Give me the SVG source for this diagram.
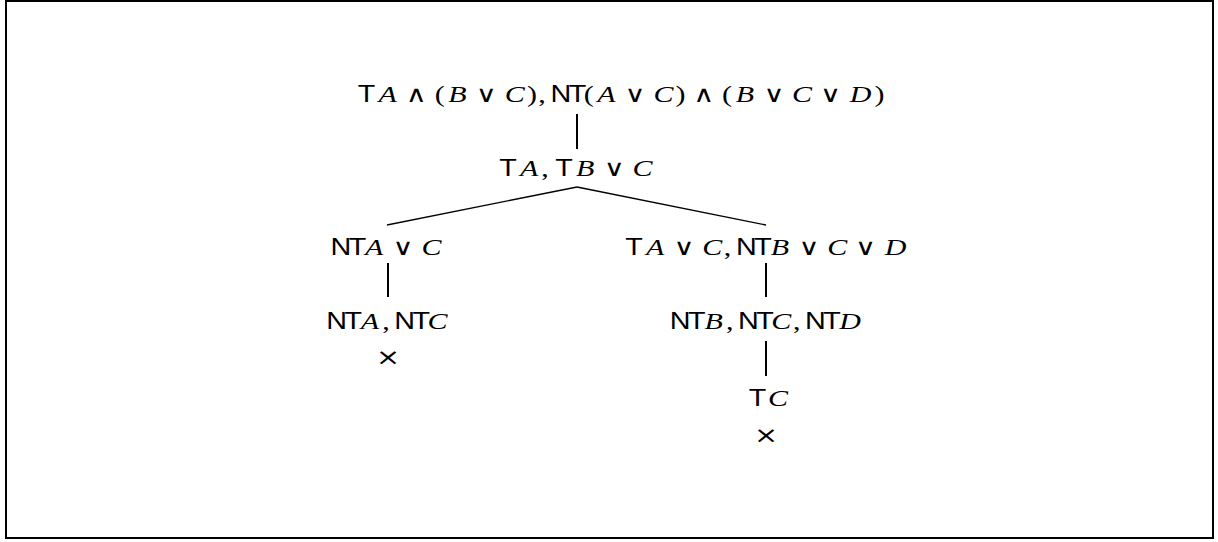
<svg xmlns="http://www.w3.org/2000/svg" width="1218" height="542" viewBox="0 0 1218 542">
  <style>
    text { font-family: "Liberation Serif", "DejaVu Serif", serif; font-size: 24px; fill: #000; text-anchor: middle; }
    .v { font-style: italic; }
    .s { font-family: "Liberation Sans", Arial, sans-serif; font-size: 23px; }
    .nt { font-family: "Liberation Sans", Arial, sans-serif; font-size: 23px; letter-spacing: -2px; }
    .op { font-family: "DejaVu Sans", sans-serif; font-size: 23px; }
    .x { font-family: "DejaVu Sans", sans-serif; font-size: 23px; }
    .edge { stroke: #000; stroke-width: 1.4; fill: none; }
    .vedge { stroke: #000; stroke-width: 2; fill: none; }
  </style>
  <rect x="6" y="1" width="1207" height="537" fill="#fff" stroke="#000" stroke-width="2"/>

  <g id="connectors">
    <line class="vedge" x1="577" y1="114" x2="577" y2="149"/>
    <line class="edge" x1="577" y1="187" x2="387" y2="225"/>
    <line class="edge" x1="577" y1="187" x2="766" y2="225"/>
    <line class="vedge" x1="388" y1="263" x2="388" y2="297"/>
    <line class="vedge" x1="766" y1="263" x2="766" y2="297"/>
    <line class="vedge" x1="766" y1="341" x2="766" y2="376"/>
  </g>

  <!-- labels are set in wide type: x positions below are in the stretched (1.25) frame -->
  <g id="n-root">
    <text y="102" transform="scale(1.25 1)"><tspan class="s" x="293.2">T</tspan><tspan class="v" x="310.1">A</tspan><tspan class="op" x="333.1">∧</tspan><tspan x="351.8">(</tspan><tspan class="v" x="366">B</tspan><tspan class="op" x="389.1">∨</tspan><tspan class="v" x="411.8">C</tspan><tspan x="425.5">)</tspan><tspan x="433.7">,</tspan><tspan class="nt" x="453.7">NT</tspan><tspan x="471">(</tspan><tspan class="v" x="485.1">A</tspan><tspan class="op" x="508.1">∨</tspan><tspan class="v" x="530.8">C</tspan><tspan x="544.4">)</tspan><tspan class="op" x="563.1">∧</tspan><tspan x="581.7">(</tspan><tspan class="v" x="595.9">B</tspan><tspan class="op" x="619.2">∨</tspan><tspan class="v" x="641.7">C</tspan><tspan class="op" x="664.4">∨</tspan><tspan class="v" x="688.5">D</tspan><tspan x="703.5">)</tspan></text>
  </g>

  <g id="n-split">
    <text y="176" transform="scale(1.25 1)"><tspan class="s" x="406.4">T</tspan><tspan class="v" x="423.3">A</tspan><tspan x="436">,</tspan><tspan class="s" x="451.2">T</tspan><tspan class="v" x="468.2">B</tspan><tspan class="op" x="491.4">∨</tspan><tspan class="v" x="514">C</tspan></text>
  </g>

  <g id="n-left">
    <text y="255" transform="scale(1.25 1)"><tspan class="nt" x="277.7">NT</tspan><tspan class="v" x="299.4">A</tspan><tspan class="op" x="322.5">∨</tspan><tspan class="v" x="345.2">C</tspan></text>
  </g>

  <g id="n-right">
    <text y="255" transform="scale(1.25 1)"><tspan class="s" x="507.3">T</tspan><tspan class="v" x="524.1">A</tspan><tspan class="op" x="547.2">∨</tspan><tspan class="v" x="569.8">C</tspan><tspan x="582.1">,</tspan><tspan class="nt" x="602.2">NT</tspan><tspan class="v" x="624">B</tspan><tspan class="op" x="647.2">∨</tspan><tspan class="v" x="669.8">C</tspan><tspan class="op" x="692.4">∨</tspan><tspan class="v" x="716.5">D</tspan></text>
  </g>

  <g id="n-left-leaf">
    <text y="329" transform="scale(1.25 1)"><tspan class="nt" x="274.3">NT</tspan><tspan class="v" x="296">A</tspan><tspan x="308.8">,</tspan><tspan class="nt" x="328.8">NT</tspan><tspan class="v" x="350">C</tspan></text>
    <text class="x" x="310.4" y="365" transform="scale(1.25 1)">×</text>
  </g>

  <g id="n-right-mid">
    <text y="329" transform="scale(1.25 1)"><tspan class="nt" x="549.2">NT</tspan><tspan class="v" x="571">B</tspan><tspan x="583.8">,</tspan><tspan class="nt" x="603.8">NT</tspan><tspan class="v" x="625.1">C</tspan><tspan x="637.4">,</tspan><tspan class="nt" x="657.4">NT</tspan><tspan class="v" x="680.1">D</tspan></text>
  </g>

  <g id="n-right-leaf">
    <text y="406" transform="scale(1.25 1)"><tspan class="s" x="606">T</tspan><tspan class="v" x="622.4">C</tspan></text>
    <text class="x" x="612.8" y="443" transform="scale(1.25 1)">×</text>
  </g>
</svg>
